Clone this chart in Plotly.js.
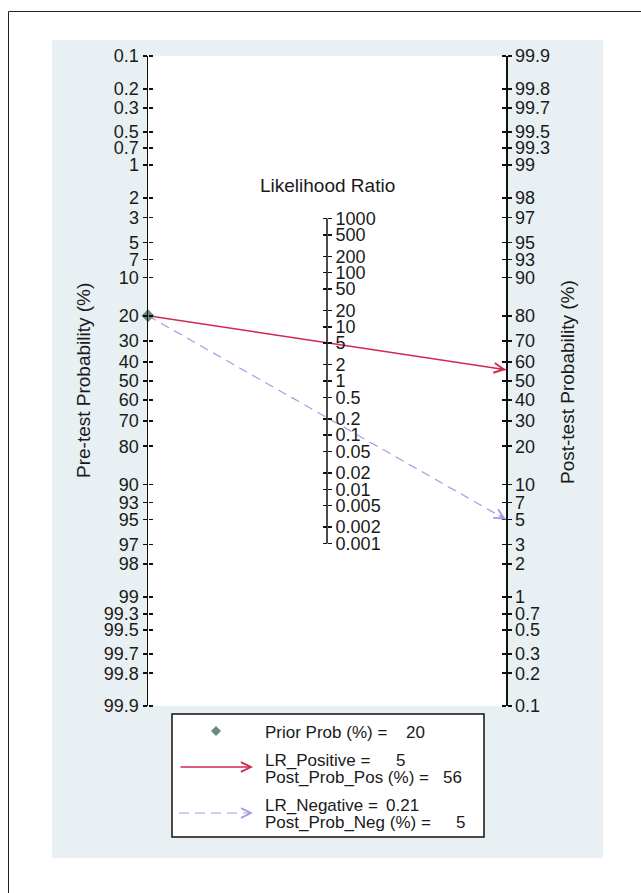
<!DOCTYPE html>
<html><head><meta charset="utf-8">
<script src="https://cdn.plot.ly/plotly-3.0.1.min.js"></script>
<style>html,body{margin:0;padding:0;background:#fff;}#chart{width:641px;height:893px;}</style>
</head><body><div id="chart"></div>
<script>
// ---- data ----
const preTicks = [0.1,0.2,0.3,0.5,0.7,1,2,3,5,7,10,20,30,40,50,60,70,80,90,93,95,97,98,99,99.3,99.5,99.7,99.8,99.9];
const postTicks = [99.9,99.8,99.7,99.5,99.3,99,98,97,95,93,90,80,70,60,50,40,30,20,10,7,5,3,2,1,0.7,0.5,0.3,0.2,0.1];
const lrTicks = [1000,500,200,100,50,20,10,5,2,1,0.5,0.2,0.1,0.05,0.02,0.01,0.005,0.002,0.001];
const priorProb = 20;
const lrNames = ['LR_Positive =', 'LR_Negative ='];
const lrValues = [5, 0.21];
const lrValueText = ['5', '0.21'];
const postNames = ['Post_Prob_Pos (%) =', 'Post_Prob_Neg (%) ='];
const postProbs = [56, 5];

// ---- scales (Fagan nomogram: logit / half-log) ----
const logit = p => Math.log(p / (1 - p));
const vPre = p => -logit(p / 100);
const vPost = p => logit(p / 100);
const vLR = r => Math.log(r) / 2;

const W = 641, H = 893, L = 148, R = 506, T = 56, B = 706;
const px = x => (x - L) / (R - L);
const py = y => (B - y) / (B - T);
const RNG = Math.log(999) * 1.0004;

const FONT = 'Liberation Sans, Arial, sans-serif';
const TXT = '#1a1a1a';
const RED = '#d0284f';
const BLUE = '#a59be0';
const GREEN = '#6a8a7c';

const base = {
  range: [-RNG, RNG], showgrid: false, zeroline: false, fixedrange: true,
  tickmode: 'array', ticklen: 4, tickwidth: 1.5, tickcolor: '#111',
  tickfont: {family: FONT, size: 18, color: TXT}, showline: false
};

const traces = [];
// lines
const colors = [RED, BLUE];
const dashes = ['solid', '9px,6px'];
const widths = [1.5, 1.2];
for (let i = 0; i < lrValues.length; i++) {
  traces.push({
    x: [0, 1], y: [vPre(priorProb), vPost(postProbs[i])],
    mode: 'lines', line: {color: colors[i], width: widths[i], dash: dashes[i]},
    hoverinfo: 'skip', showlegend: false, xaxis: 'x', yaxis: 'y'
  });
}
// center axis line spanning LR ticks
traces.push({
  x: [0.5, 0.5], y: [vLR(Math.max(...lrTicks)), vLR(Math.min(...lrTicks))],
  mode: 'lines', line: {color: '#111', width: 1.5}, hoverinfo: 'skip', showlegend: false
});
// prior marker
traces.push({
  x: [0], y: [vPre(priorProb)], mode: 'markers', cliponaxis: false,
  marker: {symbol: 'diamond', size: 10, color: GREEN}, hoverinfo: 'skip', showlegend: false
});
// empty traces to anchor overlay axes
['y2','y3','y4','y5','y6'].forEach(a => traces.push({x: [null], y: [null], yaxis: a, showlegend: false, hoverinfo: 'skip'}));

const annotations = [];
// arrowheads at the end of each line
for (let i = 0; i < lrValues.length; i++) {
  const y0 = vPre(priorProb), y1 = vPost(postProbs[i]);
  const f = 0.975;
  annotations.push({
    x: 1, y: y1, xref: 'x', yref: 'y', axref: 'x', ayref: 'y',
    ax: f, ay: y0 + (y1 - y0) * f, text: '', showarrow: true,
    arrowhead: 5, arrowsize: i === 0 ? 1.3 : 1.6, arrowwidth: widths[i], arrowcolor: colors[i], standoff: 0
  });
}
// titles
annotations.push({x: 0.5, y: py(186), xref: 'paper', yref: 'paper', text: 'Likelihood Ratio', showarrow: false,
  font: {family: FONT, size: 19, color: TXT}, xanchor: 'center', yanchor: 'middle'});
annotations.push({x: px(83), y: py(381), xref: 'paper', yref: 'paper', text: 'Pre-test Probability (%)', textangle: -90,
  showarrow: false, font: {family: FONT, size: 19, color: TXT}, xanchor: 'center', yanchor: 'middle'});
annotations.push({x: px(568), y: py(382), xref: 'paper', yref: 'paper', text: 'Post-test Probability (%)', textangle: -90,
  showarrow: false, font: {family: FONT, size: 19, color: TXT}, xanchor: 'center', yanchor: 'middle'});

// legend texts
const lf = {family: FONT, size: 17, color: TXT};
const lt = (x, y, t) => annotations.push({x: px(x), y: py(y), xref: 'paper', yref: 'paper', text: t, showarrow: false,
  font: lf, xanchor: 'left', yanchor: 'middle'});
lt(263, 732.5, 'Prior Prob (%) =');
lt(404, 732.5, String(priorProb));
lt(263, 760.5, lrNames[0]);
lt(394, 760.5, lrValueText[0]);
lt(263, 777.5, postNames[0]);
lt(441, 777.5, String(postProbs[0]));
lt(263, 805, lrNames[1]);
lt(384, 805, lrValueText[1]);
lt(263, 822, postNames[1]);
lt(454, 822, String(postProbs[1]));
// legend arrows
annotations.push({x: px(253), y: py(767), xref: 'paper', yref: 'paper', ax: -74, ay: 0, text: '', showarrow: true,
  arrowhead: 5, arrowsize: 1.3, arrowwidth: 1.5, arrowcolor: RED, standoff: 0});
annotations.push({x: px(253), y: py(813), xref: 'paper', yref: 'paper', ax: -7, ay: 0, text: '', showarrow: true,
  arrowhead: 5, arrowsize: 1.6, arrowwidth: 1.2, arrowcolor: BLUE, standoff: 0});

const shapes = [
  {type: 'rect', xref: 'paper', yref: 'paper', x0: px(52), x1: px(603), y0: py(40), y1: py(858),
    fillcolor: '#e8f0f3', line: {width: 0}, layer: 'below'},
  {type: 'rect', xref: 'paper', yref: 'paper', x0: 0, x1: 1, y0: 0, y1: 1,
    fillcolor: '#ffffff', line: {width: 0}, layer: 'below'},
  {type: 'rect', xref: 'paper', yref: 'paper', x0: px(8.5), x1: px(760), y0: py(11.5), y1: py(1000),
    fillcolor: 'rgba(0,0,0,0)', line: {color: '#222', width: 1}, layer: 'below'},
  {type: 'rect', xref: 'paper', yref: 'paper', x0: px(172), x1: px(484), y0: py(714), y1: py(837),
    fillcolor: '#ffffff', line: {color: '#111', width: 1.5}, layer: 'above'},
  {type: 'path', xref: 'paper', yref: 'paper', xsizemode: 'pixel', ysizemode: 'pixel',
    xanchor: px(216), yanchor: py(731), path: 'M0,5 L5,0 L0,-5 L-5,0 Z',
    fillcolor: GREEN, line: {width: 0}, layer: 'above'},
  {type: 'line', xref: 'paper', yref: 'paper', x0: px(179), x1: px(248), y0: py(813), y1: py(813),
    line: {color: BLUE, width: 1.2, dash: '10px,6px'}, layer: 'above'}
];

const layout = {
  width: W, height: H,
  margin: {l: L, r: W - R, t: T, b: H - B, pad: 0},
  paper_bgcolor: '#ffffff', plot_bgcolor: '#ffffff',
  showlegend: false,
  font: {family: FONT, color: TXT},
  xaxis: {range: [0, 1], visible: false, fixedrange: true},
  yaxis: Object.assign({}, base, {side: 'left', showline: true, linecolor: '#111', linewidth: 1.5, ticks: 'outside',
    tickvals: preTicks.map(vPre), ticktext: preTicks.map(String)}),
  yaxis4: Object.assign({}, base, {overlaying: 'y', side: 'right', anchor: 'free', position: 0, ticks: 'outside',
    showticklabels: false, tickvals: preTicks.map(vPre)}),
  yaxis2: Object.assign({}, base, {overlaying: 'y', side: 'right', anchor: 'x', showline: true, linecolor: '#111', linewidth: 1.5,
    ticks: 'outside', tickvals: postTicks.map(vPost), ticktext: postTicks.map(String)}),
  yaxis5: Object.assign({}, base, {overlaying: 'y', side: 'left', anchor: 'free', position: 1, ticks: 'outside',
    showticklabels: false, tickvals: postTicks.map(vPost)}),
  yaxis3: Object.assign({}, base, {overlaying: 'y', side: 'right', anchor: 'free', position: 0.5, ticks: 'outside',
    tickvals: lrTicks.map(vLR), ticktext: lrTicks.map(String)}),
  yaxis6: Object.assign({}, base, {overlaying: 'y', side: 'left', anchor: 'free', position: 0.5, ticks: 'outside',
    showticklabels: false, tickvals: lrTicks.map(vLR)}),
  shapes: shapes,
  annotations: annotations
};

Plotly.newPlot('chart', traces, layout, {displayModeBar: false, staticPlot: true});
</script>
</body></html>
